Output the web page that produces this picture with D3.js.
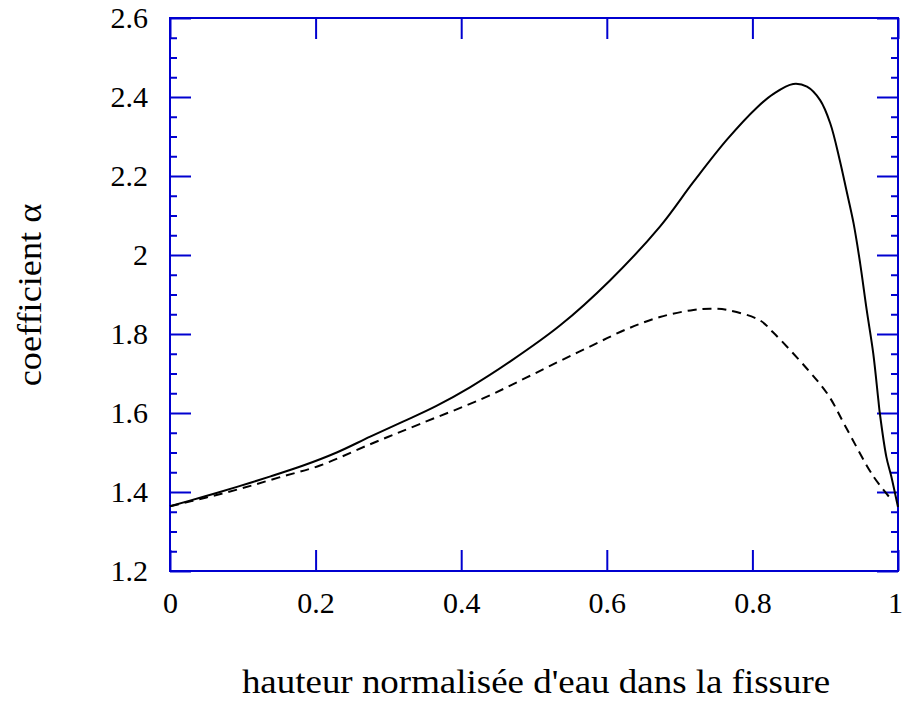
<!DOCTYPE html>
<html>
<head>
<meta charset="utf-8">
<script src="https://cdn.jsdelivr.net/npm/d3@7"></script>
<style>
  html, body { margin: 0; padding: 0; background: #fff; }
  svg { display: block; }
  text { font-family: "Liberation Serif", "Times New Roman", serif; fill: #000; }
</style>
</head>
<body>
<svg id="chart" width="902" height="701"></svg>
<script>
// ---- data ----
const solidX = [0, 0.046, 0.092, 0.137, 0.183, 0.229, 0.275, 0.32, 0.366, 0.412, 0.467, 0.536, 0.604, 0.673, 0.719, 0.765, 0.806, 0.829, 0.856, 0.875, 0.893, 0.907, 0.92, 0.929, 0.939, 0.948, 0.957, 0.966, 0.973, 0.975, 0.984, 0.991, 1.0];
const solidY = [1.364, 1.388, 1.413, 1.439, 1.467, 1.50, 1.54, 1.578, 1.618, 1.665, 1.73, 1.822, 1.935, 2.072, 2.185, 2.292, 2.373, 2.408, 2.433, 2.426, 2.392, 2.333, 2.24, 2.165, 2.08, 1.979, 1.861, 1.751, 1.633, 1.60, 1.489, 1.438, 1.362];
const dashedX = [0, 0.05, 0.1, 0.15, 0.206, 0.275, 0.343, 0.43, 0.49, 0.536, 0.581, 0.627, 0.673, 0.719, 0.742, 0.765, 0.81, 0.828, 0.875, 0.904, 0.929, 0.966, 0.989];
const dashedY = [1.364, 1.386, 1.41, 1.437, 1.467, 1.521, 1.572, 1.637, 1.69, 1.732, 1.772, 1.812, 1.843, 1.861, 1.864, 1.861, 1.835, 1.805, 1.712, 1.646, 1.562, 1.44, 1.385];
const xTicks = [0, 0.2, 0.4, 0.6, 0.8, 1];
const xTickLabels = ["0", "0.2", "0.4", "0.6", "0.8", "1"];
const yTicks = [1.2, 1.4, 1.6, 1.8, 2, 2.2, 2.4, 2.6];
const yTickLabels = ["1.2", "1.4", "1.6", "1.8", "2", "2.2", "2.4", "2.6"];
const yMinorTicks = [1.25, 1.3, 1.35, 1.45, 1.5, 1.55, 1.65, 1.7, 1.75, 1.85, 1.9, 1.95, 2.05, 2.1, 2.15, 2.25, 2.3, 2.35, 2.45, 2.5, 2.55];
const xTitle = "hauteur normalisée d'eau dans la fissure";
const yTitle = "coefficient \u03b1";

// ---- layout ----
const L = 170, R = 898, T = 18, B = 571;
const blue = "#0000d0";
const svg = d3.select("#chart");
const x = d3.scaleLinear().domain([0, 1]).range([L, R]);
const y = d3.scaleLinear().domain([1.2, 2.6]).range([B, T]);

function styleAxis(g) {
  g.select(".domain").remove();
  g.selectAll(".tick line").attr("stroke", blue).attr("stroke-width", 2);
  g.selectAll(".tick text").style("font-family", '"Liberation Serif", "Times New Roman", serif').style("font-size", "30px").attr("fill", "#000");
}

// bottom axis with labels
const gb = svg.append("g").attr("transform", `translate(0,${B})`)
  .call(d3.axisBottom(x).tickValues(xTicks).tickSize(-21).tickPadding(21)
    .tickFormat((d, i) => xTickLabels[i]))
  .call(styleAxis);
gb.selectAll(".tick text").filter(d => d === 1).attr("dx", -3);
// top axis
svg.append("g").attr("transform", `translate(0,${T})`)
  .call(d3.axisTop(x).tickValues(xTicks).tickSize(-21).tickFormat(""))
  .call(styleAxis);
// left axis with labels
svg.append("g").attr("transform", `translate(${L},0)`)
  .call(d3.axisLeft(y).tickValues(yTicks).tickSize(-21).tickPadding(22)
    .tickFormat((d, i) => yTickLabels[i]))
  .call(styleAxis);
svg.append("g").attr("transform", `translate(${L},0)`)
  .call(d3.axisLeft(y).tickValues(yMinorTicks).tickSize(-7).tickFormat(""))
  .call(styleAxis);
// right axis
svg.append("g").attr("transform", `translate(${R},0)`)
  .call(d3.axisRight(y).tickValues(yTicks).tickSize(-21).tickFormat(""))
  .call(styleAxis);
svg.append("g").attr("transform", `translate(${R},0)`)
  .call(d3.axisRight(y).tickValues(yMinorTicks).tickSize(-7).tickFormat(""))
  .call(styleAxis);

// frame
svg.append("rect").attr("x", L).attr("y", T).attr("width", R - L).attr("height", B - T)
  .attr("fill", "none").attr("stroke", blue).attr("stroke-width", 2);

// curves
const line = d3.line().x(d => x(d[0])).y(d => y(d[1])).curve(d3.curveCatmullRom.alpha(0.5));
svg.append("path").datum(solidX.map((v, i) => [v, solidY[i]]))
  .attr("d", line).attr("fill", "none").attr("stroke", "#000").attr("stroke-width", 2);
svg.append("path").datum(dashedX.map((v, i) => [v, dashedY[i]]))
  .attr("d", line).attr("fill", "none").attr("stroke", "#000").attr("stroke-width", 2)
  .attr("stroke-dasharray", "9,6");

// titles
svg.append("text").attr("transform", "translate(536,693) scale(1.12,1)").attr("text-anchor", "middle")
  .style("font-size", "33px").text(xTitle);
svg.append("text").attr("transform", "translate(41,295) rotate(-90) scale(1.1,1)").attr("text-anchor", "middle")
  .style("font-size", "33px").text(yTitle);
</script>
</body>
</html>
